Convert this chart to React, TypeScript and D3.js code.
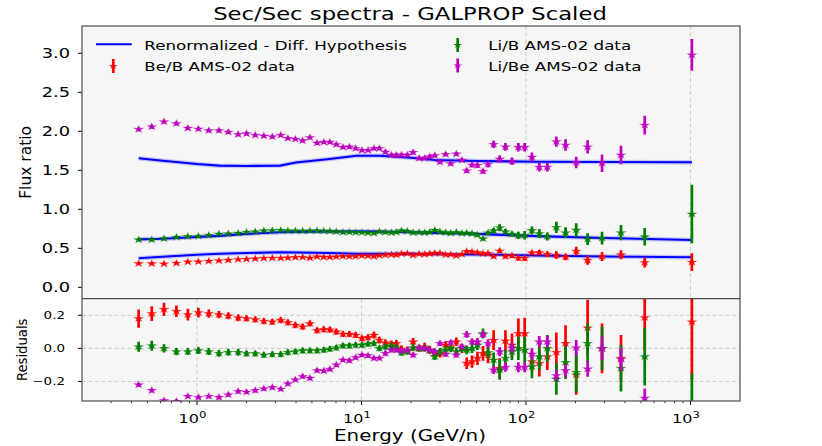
import * as d3 from 'd3'

// energies of the AMS-02 bins (GeV/n), shared by all three ratios
const energy = [
  0.442, 0.531, 0.63, 0.75, 0.88, 1.02, 1.18, 1.36, 1.55, 1.78,
  2.0, 2.26, 2.55, 2.87, 3.23, 3.57, 3.96, 4.39, 4.86, 5.37,
  5.9, 6.43, 7.03, 7.72, 8.44, 9.22, 10.07, 10.96, 11.9, 12.85,
  13.97, 15.2, 16.3, 17.5, 19.0, 20.6, 22.4, 24.2, 26.0, 27.9,
  30.0, 32.5, 34.9, 37.7, 40.8, 43.6, 47.0, 50.7, 54.8, 58.8,
  63.6, 69.2, 75, 82.2, 89.9, 98.2, 108.7, 120.5, 134.8, 153,
  174, 202, 237, 290, 378, 527, 1020
]

const beB = [
  0.305, 0.303, 0.300, 0.310, 0.326, 0.328, 0.335, 0.341, 0.348, 0.357,
  0.361, 0.366, 0.372, 0.375, 0.373, 0.378, 0.384, 0.386, 0.375, 0.392,
  0.387, 0.386, 0.391, 0.396, 0.395, 0.397, 0.404, 0.402, 0.396, 0.408,
  0.414, 0.418, 0.416, 0.431, 0.433, 0.411, 0.427, 0.423, 0.430, 0.439,
  0.438, 0.417, 0.420, 0.406, 0.423, 0.460, 0.455, 0.445, 0.432, 0.435,
  0.396, 0.466, 0.396, 0.405, 0.375, 0.373, 0.441, 0.444, 0.425, 0.413,
  0.389, 0.463, 0.348, 0.395, 0.417, 0.317, 0.323
]
const beBRes = [
  0.18, 0.21, 0.236, 0.224, 0.204, 0.216, 0.21, 0.204, 0.196, 0.184,
  0.18, 0.174, 0.164, 0.16, 0.17, 0.156, 0.14, 0.13, 0.15, 0.108,
  0.114, 0.112, 0.10, 0.086, 0.086, 0.08, 0.06, 0.066, 0.08, 0.05,
  0.034, 0.026, 0.03, -0.004, -0.012, 0.04, 0.0, 0.01, -0.01, -0.03,
  -0.03, 0.02, 0.01, 0.04, 0.0, -0.09, -0.08, -0.06, -0.03, -0.04,
  0.05, -0.12, 0.045, 0.02, 0.09, 0.09, -0.08, -0.09, -0.05, -0.024,
  0.03, -0.16, 0.124, 0.0, -0.06, 0.186, 0.16
]
const beBErr = [
  0.055, 0.045, 0.04, 0.035, 0.035, 0.03, 0.025, 0.022, 0.02, 0.02,
  0.018, 0.018, 0.018, 0.018, 0.018, 0.018, 0.018, 0.018, 0.018, 0.018,
  0.018, 0.018, 0.018, 0.018, 0.018, 0.018, 0.018, 0.018, 0.02, 0.02,
  0.02, 0.02, 0.02, 0.022, 0.022, 0.022, 0.022, 0.024, 0.024, 0.025,
  0.025, 0.025, 0.026, 0.026, 0.028, 0.035, 0.037, 0.04, 0.045, 0.05,
  0.06, 0.06, 0.065, 0.07, 0.09, 0.095, 0.06, 0.08, 0.08, 0.12,
  0.11, 0.12, 0.17, 0.15, 0.14, 0.2, 0.35
]

const liB = [
  0.609, 0.609, 0.624, 0.643, 0.652, 0.655, 0.668, 0.683, 0.687, 0.695,
  0.707, 0.713, 0.725, 0.728, 0.731, 0.725, 0.724, 0.722, 0.724, 0.725,
  0.722, 0.719, 0.713, 0.705, 0.706, 0.703, 0.703, 0.697, 0.694, 0.714,
  0.705, 0.701, 0.706, 0.726, 0.720, 0.701, 0.703, 0.701, 0.707, 0.733,
  0.711, 0.702, 0.694, 0.706, 0.691, 0.697, 0.688, 0.671, 0.622, 0.698,
  0.727, 0.764, 0.713, 0.682, 0.665, 0.667, 0.730, 0.688, 0.652, 0.768,
  0.700, 0.734, 0.618, 0.631, 0.700, 0.648, 0.94
]
const liBRes = [
  0.01, 0.016, 0.0, -0.02, -0.02, -0.014, -0.02, -0.03, -0.024, -0.024,
  -0.032, -0.032, -0.04, -0.036, -0.036, -0.024, -0.02, -0.014, -0.014, -0.014,
  -0.01, -0.004, 0.004, 0.016, 0.016, 0.02, 0.02, 0.026, 0.03, 0.0,
  0.01, 0.014, 0.004, -0.026, -0.02, 0.004, 0.0, 0.0, -0.01, -0.05,
  -0.02, -0.01, 0.0, -0.02, 0.0, -0.01, 0.0, 0.02, 0.09, -0.025,
  -0.07, -0.13, -0.06, -0.02, 0.0, -0.01, -0.11, -0.05, 0.0, -0.185,
  -0.085, -0.145, 0.03, 0.0, -0.12, -0.05, -0.55
]
const liBErr = [
  0.03, 0.03, 0.025, 0.022, 0.02, 0.02, 0.02, 0.02, 0.02, 0.02,
  0.017, 0.017, 0.017, 0.017, 0.017, 0.017, 0.017, 0.017, 0.017, 0.017,
  0.017, 0.017, 0.017, 0.017, 0.017, 0.017, 0.017, 0.017, 0.017, 0.017,
  0.018, 0.018, 0.018, 0.018, 0.018, 0.02, 0.02, 0.02, 0.02, 0.02,
  0.022, 0.022, 0.024, 0.024, 0.025, 0.026, 0.028, 0.03, 0.03, 0.035,
  0.045, 0.06, 0.05, 0.05, 0.07, 0.08, 0.07, 0.08, 0.08, 0.095,
  0.1, 0.12, 0.12, 0.13, 0.14, 0.175, 0.4
]

const liBe = [
  2.026, 2.059, 2.123, 2.10, 2.04, 2.03, 2.01, 2.01, 1.99, 1.96,
  1.97, 1.95, 1.94, 1.93, 1.95, 1.91, 1.90, 1.88, 1.92, 1.85,
  1.86, 1.86, 1.83, 1.795, 1.80, 1.78, 1.755, 1.755, 1.78, 1.78,
  1.735, 1.696, 1.696, 1.696, 1.696, 1.73, 1.654, 1.654, 1.675, 1.69,
  1.607, 1.705, 1.585, 1.71, 1.63, 1.495, 1.568, 1.564, 1.487, 1.577,
  1.833, 1.645, 1.80, 1.615, 1.795, 1.795, 1.67, 1.54, 1.54, 1.867,
  1.825, 1.60, 1.80, 1.59, 1.696, 2.08, 2.98
]
const liBeRes = [
  -0.22, -0.254, -0.316, -0.32, -0.29, -0.296, -0.29, -0.296, -0.28, -0.26,
  -0.264, -0.254, -0.244, -0.236, -0.246, -0.214, -0.19, -0.17, -0.18, -0.134,
  -0.136, -0.126, -0.10, -0.07, -0.074, -0.056, -0.04, -0.044, -0.06, -0.06,
  -0.03, -0.01, -0.01, -0.014, -0.01, -0.04, 0.004, 0.0, -0.01, -0.02,
  0.03, -0.036, 0.036, -0.04, 0.01, 0.084, 0.04, 0.04, 0.084, 0.03,
  -0.13, -0.02, -0.114, 0.004, -0.114, -0.114, -0.034, 0.04, 0.04, -0.164,
  -0.134, 0.004, -0.124, 0.0, -0.066, -0.3, -0.85
]
const liBeErr = [
  0.012, 0.012, 0.012, 0.012, 0.012, 0.012, 0.012, 0.012, 0.012, 0.012,
  0.012, 0.012, 0.012, 0.012, 0.012, 0.012, 0.012, 0.012, 0.012, 0.012,
  0.012, 0.012, 0.012, 0.012, 0.012, 0.012, 0.012, 0.012, 0.012, 0.012,
  0.015, 0.015, 0.015, 0.015, 0.015, 0.015, 0.015, 0.015, 0.015, 0.015,
  0.015, 0.015, 0.015, 0.015, 0.015, 0.02, 0.02, 0.022, 0.022, 0.025,
  0.025, 0.027, 0.028, 0.03, 0.03, 0.03, 0.035, 0.035, 0.035, 0.035,
  0.04, 0.047, 0.047, 0.07, 0.07, 0.058, 0.068
]

// renormalized diffusion model, read at a few energies
const modelEnergy = [0.442, 0.62, 1.0, 1.37, 2.0, 3.2, 4.0, 6.4, 9.3, 13, 20, 28, 50, 116, 300, 1020]
const modelLiBe = [1.654, 1.623, 1.58, 1.56, 1.556, 1.56, 1.60, 1.645, 1.687, 1.687, 1.66, 1.632, 1.62, 1.61, 1.606, 1.603]
const modelBeB = [0.372, 0.392, 0.418, 0.43, 0.44, 0.449, 0.447, 0.44, 0.431, 0.43, 0.429, 0.426, 0.42, 0.408, 0.395, 0.385]
const modelLiB = [0.615, 0.623, 0.645, 0.66, 0.685, 0.705, 0.71, 0.716, 0.717, 0.714, 0.706, 0.698, 0.685, 0.656, 0.632, 0.606]

const topTicks = [0.0, 0.5, 1.0, 1.5, 2.0, 2.5, 3.0]
const resTicks = [-0.2, 0.0, 0.2]
const decades = [0, 1, 2, 3]

const W = 822
const H = 446
// the picture is a stretched render: glyphs are wider than they are tall
const SX = 1.284
const SY = 0.929
const FONT = 'DejaVu Sans, sans-serif'
const AXBG = '#f6f6f6'
const SPINE = '#4d4d4d'
const GRID = '#cfcfcf'

const left = 82
const right = 740
const top1 = 26
const split = 298.7
const bottom2 = 401

const x = d3.scaleLog().domain([0.2, 2000]).range([left, right])
const yTop = d3.scaleLinear().domain([-0.146, 3.35]).range([split, top1])
const yRes = d3.scaleLinear().domain([-0.318, 0.3]).range([bottom2, split])

const starR = 3.7
const starPath = d3.symbol(d3.symbolStar, starR * starR / 0.8908)()

function Label({ x: tx, y: ty, size, anchor = 'start', rotate = false, sx = SX, sy = SY, children }: any) {
  return (
    <text
      transform={`translate(${tx},${ty}) scale(${sx},${sy})${rotate ? ' rotate(-90)' : ''}`}
      fontSize={size}
      fontFamily={FONT}
      textAnchor={anchor}
      fill="#000"
    >
      {children}
    </text>
  )
}

function Series({ values, errs, color, y }: any) {
  return (
    <g>
      {values.map((v: number, i: number) => {
        const e = errs[i] * Math.abs(v)
        return (
          <line key={'e' + i} x1={x(energy[i])} x2={x(energy[i])} y1={y(v - e)} y2={y(v + e)}
            stroke={color} strokeWidth={2.7} />
        )
      })}
      {values.map((v: number, i: number) => (
        <path key={'s' + i} d={starPath!}
          transform={`translate(${x(energy[i])},${y(v)}) scale(${SX},${SY})`}
          fill={color} stroke={color} strokeOpacity={0.45} strokeWidth={0.8} />
      ))}
    </g>
  )
}

function ResSeries({ values, errs, color }: any) {
  return (
    <g>
      {values.map((v: number, i: number) => (
        <line key={'e' + i} x1={x(energy[i])} x2={x(energy[i])}
          y1={yRes(v - errs[i])} y2={yRes(v + errs[i])} stroke={color} strokeWidth={2.7} />
      ))}
      {values.map((v: number, i: number) => (
        <path key={'s' + i} d={starPath!}
          transform={`translate(${x(energy[i])},${yRes(v)}) scale(${SX},${SY})`}
          fill={color} stroke={color} strokeOpacity={0.45} strokeWidth={0.8} />
      ))}
    </g>
  )
}

export default function App() {
  const model = d3.line<number>()
    .x((_, i) => x(modelEnergy[i]))
    .y(d => yTop(d))

  const minor: number[] = []
  for (let k = -1; k <= 3; k++) {
    for (let m = 2; m <= 9; m++) {
      const v = m * Math.pow(10, k)
      if (v > 0.2 && v < 2000) minor.push(v)
    }
  }

  const red = '#ff0000'
  const green = '#008000'
  const magenta = '#bf00bf'

  return (
    <div style={{ position: 'absolute', left: 0, top: 0 }}>
      <svg width={W} height={H} style={{ display: 'block', background: '#fff' }}>
        <defs>
          <clipPath id="clipTop">
            <rect x={left} y={top1} width={right - left} height={split - top1} />
          </clipPath>
          <clipPath id="clipRes">
            <rect x={left} y={split} width={right - left} height={bottom2 - split} />
          </clipPath>
        </defs>

        {/* title */}
        <Label x={410} y={19.5} size={18} sx={1.262} sy={1.0} anchor="middle">Sec/Sec spectra - GALPROP Scaled</Label>

        {/* top panel */}
        <rect x={left} y={top1} width={right - left} height={split - top1} fill={AXBG} />
        {[100, 1000].map(v => (
          <line key={v} x1={x(v)} x2={x(v)} y1={top1} y2={split}
            stroke={GRID} strokeWidth={1.1} strokeDasharray="4,2.5" />
        ))}
        <g clipPath="url(#clipTop)">
          {[modelLiBe, modelLiB, modelBeB].map((m, k) => (
            <g key={k}>
              <path d={model(m)!} fill="none" stroke="#0000ff" strokeOpacity={0.2} strokeWidth={4.5} />
              <path d={model(m)!} fill="none" stroke="#0000ff" strokeWidth={2.1} />
            </g>
          ))}
          <Series values={beB} errs={beBErr} color={red} y={yTop} />
          <Series values={liB} errs={liBErr} color={green} y={yTop} />
          <Series values={liBe} errs={liBeErr} color={magenta} y={yTop} />
        </g>
        {topTicks.map(t => (
          <g key={t}>
            <line x1={left - 4} x2={left} y1={yTop(t)} y2={yTop(t)} stroke="#000" strokeWidth={1} />
            <Label x={70} y={yTop(t) + 4.9} size={13.9} sy={0.98} anchor="end">{t.toFixed(1)}</Label>
          </g>
        ))}
        <Label x={31} y={(top1 + split) / 2} size={16.7} sx={1.0} anchor="middle" rotate>Flux ratio</Label>

        {/* legend */}
        <line x1={96} x2={131.7} y1={44.3} y2={44.3} stroke="#0000ff" strokeWidth={2.1} />
        <Label x={144.3} y={50} size={13} sy={1.0}>Renormalized - Diff. Hypothesis</Label>
        {[
          { cx: 113.3, cy: 66, color: red, label: 'Be/B AMS-02 data', tx: 144.3, ty: 70.7 },
          { cx: 457.7, cy: 45, color: green, label: 'Li/B AMS-02 data', tx: 488.3, ty: 50 },
          { cx: 457.7, cy: 65.5, color: magenta, label: 'Li/Be AMS-02 data', tx: 488.3, ty: 70.7 }
        ].map(l => (
          <g key={l.label}>
            <line x1={l.cx} x2={l.cx} y1={l.cy - 7} y2={l.cy + 7} stroke={l.color} strokeWidth={2.7} />
            <path d={starPath!} transform={`translate(${l.cx},${l.cy}) scale(${SX},${SY})`} fill={l.color} />
            <Label x={l.tx} y={l.ty} size={13} sy={1.0}>{l.label}</Label>
          </g>
        ))}

        {/* residual panel */}
        <rect x={left} y={split} width={right - left} height={bottom2 - split} fill={AXBG} />
        {decades.map(d => (
          <line key={d} x1={x(Math.pow(10, d))} x2={x(Math.pow(10, d))} y1={split} y2={bottom2}
            stroke={GRID} strokeWidth={1.1} strokeDasharray="4,2.5" />
        ))}
        {resTicks.map(t => (
          <line key={t} x1={left} x2={right} y1={yRes(t)} y2={yRes(t)}
            stroke={GRID} strokeWidth={1.1} strokeDasharray="4,2.5" />
        ))}
        <g clipPath="url(#clipRes)">
          <ResSeries values={beBRes} errs={beBErr} color={red} />
          <ResSeries values={liBRes} errs={liBErr} color={green} />
          <ResSeries values={liBeRes} errs={liBeErr} color={magenta} />
        </g>
        {resTicks.map(t => (
          <g key={t}>
            <line x1={left - 4} x2={left} y1={yRes(t)} y2={yRes(t)} stroke="#000" strokeWidth={1} />
            <Label x={65} y={yRes(t) + 3.8} size={10.5} sy={1.0} anchor="end">
              {t === 0 ? '0.0' : (t < 0 ? '\u2212' : '') + Math.abs(t).toFixed(1)}
            </Label>
          </g>
        ))}
        <Label x={26.7} y={(split + bottom2) / 2} size={14.2} sx={1.05} anchor="middle" rotate>Residuals</Label>

        {/* x axis */}
        {minor.map(v => (
          <line key={v} x1={x(v)} x2={x(v)} y1={bottom2} y2={bottom2 + 2.2} stroke="#000" strokeWidth={0.8} />
        ))}
        {decades.map(d => (
          <g key={d}>
            <line x1={x(Math.pow(10, d))} x2={x(Math.pow(10, d))} y1={bottom2} y2={bottom2 + 4}
              stroke="#000" strokeWidth={1} />
            <Label x={x(Math.pow(10, d)) - 4.5} y={423.3} size={12.5} sy={1.0} anchor="middle">
              <tspan>10</tspan>
              <tspan dy={-5.5} fontSize={9}>{d}</tspan>
            </Label>
          </g>
        ))}
        <Label x={410} y={441} size={15.5} sy={1.05} anchor="middle">Energy (GeV/n)</Label>

        {/* spines */}
        <rect x={left} y={top1} width={right - left} height={bottom2 - top1} fill="none"
          stroke={SPINE} strokeWidth={1.2} />
        <line x1={left} x2={right} y1={split} y2={split} stroke={SPINE} strokeWidth={1.2} />
      </svg>
    </div>
  )
}
